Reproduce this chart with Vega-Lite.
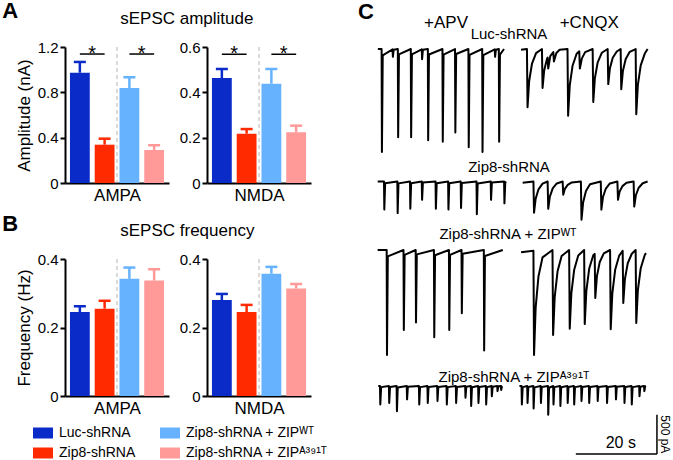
{
"$schema":"https://vega.github.io/schema/vega-lite/v6.json",
"padding":{"left":2,"top":0,"right":3,"bottom":0},
"spacing":47,
"config":{"font":"Liberation Sans","view":{"stroke":null},
 "axis":{"domainColor":"black","domainWidth":2,"tickColor":"black","tickWidth":2,"tickSize":5,"labelColor":"black","labelFontSize":15,"titleFontSize":17,"titleFontWeight":"normal","titleColor":"black","grid":false,"labelPadding":2,"titlePadding":4},
 "axisX":{"ticks":false,"labels":false,"titlePadding":4},
 "title":{"fontWeight":"normal","color":"black","fontSize":17,"subtitleColor":"black"},
 "line":{"strokeJoin":"round"},
 "legend":{"orient":"none","legendX":-32,"legendY":376,"columns":2,"symbolType":"M-1,-0.55H1V0.55H-1Z","symbolSize":400,"symbolStrokeWidth":0,"symbolOpacity":1,"labelFontSize":14,"labelColor":"black","labelOffset":6,"columnPadding":24,"rowPadding":3,"padding":0}},
"datasets":{
"bars":[
{"a":"amp","r":"AMPA","g":"Luc","m":0.973,"u":1.068},
{"a":"amp","r":"AMPA","g":"Zip8","m":0.338,"u":0.391},
{"a":"amp","r":"AMPA","g":"WT","m":0.838,"u":0.933},
{"a":"amp","r":"AMPA","g":"A391T","m":0.291,"u":0.333},
{"a":"amp","r":"NMDA","g":"Luc","m":0.463,"u":0.503},
{"a":"amp","r":"NMDA","g":"Zip8","m":0.2175,"u":0.238},
{"a":"amp","r":"NMDA","g":"WT","m":0.438,"u":0.503},
{"a":"amp","r":"NMDA","g":"A391T","m":0.224,"u":0.253},
{"a":"freq","r":"AMPA","g":"Luc","m":0.245,"u":0.262},
{"a":"freq","r":"AMPA","g":"Zip8","m":0.255,"u":0.278},
{"a":"freq","r":"AMPA","g":"WT","m":0.342,"u":0.375},
{"a":"freq","r":"AMPA","g":"A391T","m":0.337,"u":0.370},
{"a":"freq","r":"NMDA","g":"Luc","m":0.280,"u":0.298},
{"a":"freq","r":"NMDA","g":"Zip8","m":0.245,"u":0.266},
{"a":"freq","r":"NMDA","g":"WT","m":0.357,"u":0.377},
{"a":"freq","r":"NMDA","g":"A391T","m":0.314,"u":0.327}],
"sig":[
{"r":"AMPA","g":"Luc","g2":"Zip8","y":1.138},
{"r":"AMPA","g":"WT","g2":"A391T","y":1.138},
{"r":"NMDA","g":"Luc","g2":"Zip8","y":0.568},
{"r":"NMDA","g":"WT","g2":"A391T","y":0.568}],
"hdr":[{"t":18.0,"label":"+APV"},{"t":53.3,"label":"+CNQX"}],
"sb":[{"t1":50,"t2":70,"i1":-865,"i2":-865},{"t1":70,"t2":70,"i1":-365,"i2":-865}],
"luc":[
{"s":"a","t":1.2,"i":0},{"s":"a","t":2.12,"i":0},{"s":"a","t":2.2,"i":-1320},{"s":"a","t":2.4,"i":-80},{"s":"a","t":4.82,"i":-5},{"s":"a","t":4.9,"i":-100},{"s":"a","t":5.1,"i":-8},{"s":"a","t":6.12,"i":0},{"s":"a","t":6.2,"i":-1130},{"s":"a","t":6.4,"i":-68},{"s":"a","t":9.32,"i":0},{"s":"a","t":9.4,"i":-1130},{"s":"a","t":9.6,"i":-68},{"s":"a","t":12.02,"i":-5},{"s":"a","t":12.1,"i":-130},{"s":"a","t":12.3,"i":-10},{"s":"a","t":13.52,"i":0},{"s":"a","t":13.6,"i":-1170},{"s":"a","t":13.8,"i":-70},{"s":"a","t":17.12,"i":0},{"s":"a","t":17.2,"i":-1190},{"s":"a","t":17.4,"i":-71},{"s":"a","t":20.22,"i":0},{"s":"a","t":20.3,"i":-1070},{"s":"a","t":20.5,"i":-64},{"s":"a","t":23.52,"i":0},{"s":"a","t":23.6,"i":-1260},{"s":"a","t":23.8,"i":-76},{"s":"a","t":26.92,"i":0},{"s":"a","t":27.0,"i":-1320},{"s":"a","t":27.2,"i":-79},{"s":"a","t":30.02,"i":-5},{"s":"a","t":30.1,"i":-100},{"s":"a","t":30.3,"i":-8},{"s":"a","t":31.02,"i":0},{"s":"a","t":31.1,"i":-1190},{"s":"a","t":31.3,"i":-71},{"s":"a","t":32.3,"i":0},
{"s":"c","t":36.5,"i":-10},{"s":"c","t":37.95,"i":0},{"s":"c","t":38.1,"i":-745},{"s":"c","t":38.5,"i":-410},{"s":"c","t":39.2,"i":-186},{"s":"c","t":40.2,"i":-52},{"s":"c","t":41.65,"i":0},{"s":"c","t":41.8,"i":-500},{"s":"c","t":42.2,"i":-275},{"s":"c","t":42.9,"i":-125},{"s":"c","t":43.05,"i":-110},{"s":"c","t":43.2,"i":-250},{"s":"c","t":43.7,"i":-90},{"s":"c","t":44.45,"i":-40},{"s":"c","t":44.6,"i":-160},{"s":"c","t":45.2,"i":-50},{"s":"c","t":46.0,"i":-10},{"s":"c","t":47.95,"i":0},{"s":"c","t":48.1,"i":-855},{"s":"c","t":48.5,"i":-470},{"s":"c","t":49.2,"i":-214},{"s":"c","t":50.2,"i":-60},{"s":"c","t":50.85,"i":-30},{"s":"c","t":51.0,"i":-250},{"s":"c","t":51.5,"i":-120},{"s":"c","t":52.3,"i":-40},{"s":"c","t":54.15,"i":0},{"s":"c","t":54.3,"i":-680},{"s":"c","t":54.7,"i":-374},{"s":"c","t":55.4,"i":-170},{"s":"c","t":56.4,"i":-48},{"s":"c","t":57.85,"i":0},{"s":"c","t":58.0,"i":-450},{"s":"c","t":58.4,"i":-248},{"s":"c","t":59.1,"i":-112},{"s":"c","t":60.1,"i":-32},{"s":"c","t":61.05,"i":0},{"s":"c","t":61.2,"i":-515},{"s":"c","t":61.6,"i":-283},{"s":"c","t":62.3,"i":-129},{"s":"c","t":63.3,"i":-36},{"s":"c","t":64.75,"i":0},{"s":"c","t":64.9,"i":-835},{"s":"c","t":65.3,"i":-459},{"s":"c","t":66.0,"i":-209},{"s":"c","t":67.0,"i":-58},{"s":"c","t":67.7,"i":0}],
"zip8":[
{"s":"a","t":1.16,"i":0},{"s":"a","t":2.71,"i":0},{"s":"a","t":2.79,"i":-360},{"s":"a","t":2.99,"i":-22},{"s":"a","t":6.0,"i":0},{"s":"a","t":6.08,"i":-405},{"s":"a","t":6.28,"i":-24},{"s":"a","t":9.12,"i":0},{"s":"a","t":9.2,"i":-350},{"s":"a","t":9.4,"i":-21},{"s":"a","t":12.02,"i":0},{"s":"a","t":12.1,"i":-235},{"s":"a","t":12.3,"i":-14},{"s":"a","t":15.42,"i":0},{"s":"a","t":15.5,"i":-350},{"s":"a","t":15.7,"i":-21},{"s":"a","t":18.52,"i":0},{"s":"a","t":18.6,"i":-360},{"s":"a","t":18.8,"i":-22},{"s":"a","t":21.62,"i":0},{"s":"a","t":21.7,"i":-340},{"s":"a","t":21.9,"i":-20},{"s":"a","t":25.52,"i":0},{"s":"a","t":25.6,"i":-420},{"s":"a","t":25.8,"i":-25},{"s":"a","t":29.02,"i":0},{"s":"a","t":29.1,"i":-235},{"s":"a","t":29.3,"i":-14},{"s":"a","t":32.32,"i":0},{"s":"a","t":32.4,"i":-280},{"s":"a","t":32.6,"i":-17},{"s":"a","t":32.8,"i":0},
{"s":"c","t":36.9,"i":-15},{"s":"c","t":39.55,"i":0},{"s":"c","t":39.7,"i":-400},{"s":"c","t":40.1,"i":-220},{"s":"c","t":40.8,"i":-100},{"s":"c","t":41.8,"i":-28},{"s":"c","t":43.05,"i":0},{"s":"c","t":43.2,"i":-350},{"s":"c","t":43.6,"i":-193},{"s":"c","t":44.3,"i":-88},{"s":"c","t":45.3,"i":-25},{"s":"c","t":46.75,"i":0},{"s":"c","t":46.9,"i":-170},{"s":"c","t":47.3,"i":-94},{"s":"c","t":48.0,"i":-43},{"s":"c","t":49.0,"i":-12},{"s":"c","t":51.25,"i":0},{"s":"c","t":51.4,"i":-490},{"s":"c","t":51.8,"i":-270},{"s":"c","t":52.5,"i":-123},{"s":"c","t":53.5,"i":-34},{"s":"c","t":56.15,"i":0},{"s":"c","t":56.3,"i":-360},{"s":"c","t":56.7,"i":-198},{"s":"c","t":57.4,"i":-90},{"s":"c","t":58.4,"i":-25},{"s":"c","t":60.25,"i":0},{"s":"c","t":60.4,"i":-235},{"s":"c","t":60.8,"i":-129},{"s":"c","t":61.5,"i":-59},{"s":"c","t":62.5,"i":-16},{"s":"c","t":64.25,"i":0},{"s":"c","t":64.4,"i":-320},{"s":"c","t":64.8,"i":-176},{"s":"c","t":65.5,"i":-80},{"s":"c","t":66.5,"i":-22},{"s":"c","t":67.7,"i":0}],
"wt":[
{"s":"a","t":1.15,"i":0},{"s":"a","t":3.37,"i":0},{"s":"a","t":3.45,"i":-1345},{"s":"a","t":3.65,"i":-81},{"s":"a","t":7.52,"i":0},{"s":"a","t":7.6,"i":-1025},{"s":"a","t":7.8,"i":-62},{"s":"a","t":10.52,"i":0},{"s":"a","t":10.6,"i":-930},{"s":"a","t":10.8,"i":-56},{"s":"a","t":15.02,"i":0},{"s":"a","t":15.1,"i":-1120},{"s":"a","t":15.3,"i":-67},{"s":"a","t":18.72,"i":0},{"s":"a","t":18.8,"i":-1025},{"s":"a","t":19.0,"i":-62},{"s":"a","t":21.82,"i":0},{"s":"a","t":21.9,"i":-810},{"s":"a","t":22.1,"i":-49},{"s":"a","t":27.32,"i":0},{"s":"a","t":27.4,"i":-1290},{"s":"a","t":27.6,"i":-77},{"s":"a","t":32.0,"i":0},
{"s":"c","t":36.5,"i":-30},{"s":"c","t":39.55,"i":-10},{"s":"c","t":39.7,"i":-1345},{"s":"c","t":40.1,"i":-740},{"s":"c","t":40.8,"i":-336},{"s":"c","t":41.8,"i":-94},{"s":"c","t":44.25,"i":0},{"s":"c","t":44.4,"i":-1090},{"s":"c","t":44.8,"i":-600},{"s":"c","t":45.5,"i":-273},{"s":"c","t":46.5,"i":-76},{"s":"c","t":48.35,"i":0},{"s":"c","t":48.5,"i":-1010},{"s":"c","t":48.9,"i":-556},{"s":"c","t":49.6,"i":-253},{"s":"c","t":50.6,"i":-71},{"s":"c","t":52.05,"i":0},{"s":"c","t":52.2,"i":-950},{"s":"c","t":52.6,"i":-523},{"s":"c","t":53.3,"i":-238},{"s":"c","t":54.3,"i":-67},{"s":"c","t":54.65,"i":-50},{"s":"c","t":54.8,"i":-615},{"s":"c","t":55.2,"i":-338},{"s":"c","t":55.9,"i":-154},{"s":"c","t":56.9,"i":-43},{"s":"c","t":58.45,"i":0},{"s":"c","t":58.6,"i":-1015},{"s":"c","t":59.0,"i":-558},{"s":"c","t":59.7,"i":-254},{"s":"c","t":60.7,"i":-71},{"s":"c","t":61.55,"i":-10},{"s":"c","t":61.7,"i":-680},{"s":"c","t":62.1,"i":-374},{"s":"c","t":62.8,"i":-170},{"s":"c","t":63.8,"i":-48},{"s":"c","t":64.75,"i":0},{"s":"c","t":64.9,"i":-935},{"s":"c","t":65.3,"i":-514},{"s":"c","t":66.0,"i":-234},{"s":"c","t":67.0,"i":-65},{"s":"c","t":67.3,"i":-40}],
"a391":[
{"s":"a","t":1.3,"i":0},{"s":"a","t":1.72,"i":0},{"s":"a","t":1.8,"i":-235},{"s":"a","t":2.0,"i":-14},{"s":"a","t":3.92,"i":0},{"s":"a","t":4.0,"i":-215},{"s":"a","t":4.2,"i":-13},{"s":"a","t":5.82,"i":0},{"s":"a","t":5.9,"i":-320},{"s":"a","t":6.1,"i":-19},{"s":"a","t":8.32,"i":0},{"s":"a","t":8.4,"i":-170},{"s":"a","t":8.6,"i":-10},{"s":"a","t":11.32,"i":0},{"s":"a","t":11.4,"i":-235},{"s":"a","t":11.6,"i":-14},{"s":"a","t":13.42,"i":0},{"s":"a","t":13.5,"i":-215},{"s":"a","t":13.7,"i":-13},{"s":"a","t":15.82,"i":0},{"s":"a","t":15.9,"i":-190},{"s":"a","t":16.1,"i":-11},{"s":"a","t":18.12,"i":0},{"s":"a","t":18.2,"i":-235},{"s":"a","t":18.4,"i":-14},{"s":"a","t":20.42,"i":0},{"s":"a","t":20.5,"i":-215},{"s":"a","t":20.7,"i":-13},{"s":"a","t":22.72,"i":0},{"s":"a","t":22.8,"i":-150},{"s":"a","t":23.0,"i":-9},{"s":"a","t":24.12,"i":0},{"s":"a","t":24.2,"i":-255},{"s":"a","t":24.4,"i":-15},{"s":"a","t":25.92,"i":0},{"s":"a","t":26.0,"i":-215},{"s":"a","t":26.2,"i":-13},{"s":"a","t":27.82,"i":0},{"s":"a","t":27.9,"i":-235},{"s":"a","t":28.1,"i":-14},{"s":"a","t":29.22,"i":0},{"s":"a","t":29.3,"i":-130},{"s":"a","t":29.5,"i":-8},{"s":"a","t":30.62,"i":0},{"s":"a","t":30.7,"i":-65},{"s":"a","t":30.9,"i":-4},{"s":"a","t":31.52,"i":0},{"s":"a","t":31.6,"i":-50},{"s":"a","t":31.8,"i":-3},{"s":"a","t":31.9,"i":0},
{"s":"c","t":36.1,"i":0},{"s":"c","t":36.62,"i":0},{"s":"c","t":36.7,"i":-235},{"s":"c","t":36.9,"i":-14},{"s":"c","t":38.02,"i":0},{"s":"c","t":38.1,"i":-215},{"s":"c","t":38.3,"i":-13},{"s":"c","t":39.52,"i":0},{"s":"c","t":39.6,"i":-285},{"s":"c","t":39.8,"i":-17},{"s":"c","t":41.32,"i":0},{"s":"c","t":41.4,"i":-215},{"s":"c","t":41.6,"i":-13},{"s":"c","t":43.12,"i":0},{"s":"c","t":43.2,"i":-365},{"s":"c","t":43.4,"i":-22},{"s":"c","t":44.42,"i":0},{"s":"c","t":44.5,"i":-235},{"s":"c","t":44.7,"i":-14},{"s":"c","t":46.12,"i":0},{"s":"c","t":46.2,"i":-255},{"s":"c","t":46.4,"i":-15},{"s":"c","t":47.92,"i":0},{"s":"c","t":48.0,"i":-215},{"s":"c","t":48.2,"i":-13},{"s":"c","t":49.52,"i":0},{"s":"c","t":49.6,"i":-235},{"s":"c","t":49.8,"i":-14},{"s":"c","t":51.32,"i":0},{"s":"c","t":51.4,"i":-190},{"s":"c","t":51.6,"i":-11},{"s":"c","t":53.22,"i":0},{"s":"c","t":53.3,"i":-215},{"s":"c","t":53.5,"i":-13},{"s":"c","t":55.32,"i":0},{"s":"c","t":55.4,"i":-190},{"s":"c","t":55.6,"i":-11},{"s":"c","t":57.62,"i":0},{"s":"c","t":57.7,"i":-215},{"s":"c","t":57.9,"i":-13},{"s":"c","t":59.82,"i":0},{"s":"c","t":59.9,"i":-170},{"s":"c","t":60.1,"i":-10},{"s":"c","t":61.92,"i":0},{"s":"c","t":62.0,"i":-215},{"s":"c","t":62.2,"i":-13},{"s":"c","t":63.72,"i":0},{"s":"c","t":63.8,"i":-235},{"s":"c","t":64.0,"i":-14},{"s":"c","t":65.62,"i":0},{"s":"c","t":65.7,"i":-130},{"s":"c","t":65.9,"i":-8},{"s":"c","t":66.82,"i":0},{"s":"c","t":66.9,"i":-65},{"s":"c","t":67.1,"i":-4},{"s":"c","t":67.3,"i":0}]
},
"hconcat":[
{"spacing":10,"vconcat":[
 {"spacing":10,
  "title":{"text":"A","subtitle":"\u200b\u00a0\u00a0\u00a0\u00a0\u00a0\u00a0\u00a0\u00a0\u00a0\u00a0\u00a0\u00a0\u00a0\u00a0\u00a0\u00a0\u00a0\u00a0\u00a0\u00a0\u00a0\u00a0\u00a0\u00a0\u00a0sEPSC amplitude","anchor":"start","frame":"bounds","dx":-13,"fontSize":22,"fontWeight":"bold","subtitleFontSize":17,"subtitlePadding":-12,"offset":12},
  "hconcat":[
  {"width":104,"height":136,
   "data":{"name":"bars"},
   "transform":[{"filter":"datum.a=='amp' && datum.r=='AMPA'"}],
   "layer":[
    {"transform":[{"filter":"datum.g=='Zip8'"}],"mark":{"type":"rule","strokeDash":[4,3],"strokeWidth":1,"color":"#b5b5b5"},
     "encoding":{"x":{"field":"g","type":"nominal","bandPosition":1.125,"title":"AMPA","scale":{"domain":["Luc","Zip8","WT","A391T"],"paddingInner":0.2,"paddingOuter":0.2}}}},
    {"mark":{"type":"bar"},
     "encoding":{"x":{"field":"g","type":"nominal","title":"AMPA"},
      "y":{"field":"m","type":"quantitative","title":"Amplitude (nA)","scale":{"domain":[0,1.2],"nice":false},"axis":{"values":[0,0.4,0.8,1.2],"labelExpr":"datum.value == 0 ? '0' : format(datum.value, '.1f')"}},
      "color":{"field":"g","type":"nominal","scale":{"domain":["Luc","WT","Zip8","A391T"],"range":["#0A2BC8","#66B2FF","#FF2A00","#FF9A99"]},"legend":{"title":null,"values":["Luc","Zip8","WT","A391T"],"labelExpr":"datum.label == 'Luc' ? 'Luc-shRNA' : datum.label == 'Zip8' ? 'Zip8-shRNA' : datum.label == 'WT' ? 'Zip8-shRNA + ZIPᵂᵀ' : 'Zip8-shRNA + ZIPᴬ³⁹¹ᵀ'"}}}},
    {"mark":{"type":"rule","strokeWidth":2.5},
     "encoding":{"x":{"field":"g","type":"nominal","title":"AMPA"},"y":{"field":"m","type":"quantitative","title":"Amplitude (nA)"},"y2":{"field":"u"},"color":{"field":"g","type":"nominal"}}},
    {"mark":{"type":"tick","thickness":2.5,"size":12,"opacity":1},
     "encoding":{"x":{"field":"g","type":"nominal","title":"AMPA"},"y":{"field":"u","type":"quantitative","title":"Amplitude (nA)"},"color":{"field":"g","type":"nominal"}}},
    {"data":{"name":"sig"},"transform":[{"filter":"datum.r=='AMPA'"}],"mark":{"type":"rule","strokeWidth":1.5,"color":"black"},
     "encoding":{"x":{"field":"g","type":"nominal","title":"AMPA"},"x2":{"field":"g2"},"y":{"field":"y","type":"quantitative","title":"Amplitude (nA)"}}},
    {"data":{"name":"sig"},"transform":[{"filter":"datum.r=='AMPA'"}],"mark":{"type":"text","text":"*","fontSize":20,"dy":6,"baseline":"alphabetic","color":"black"},
     "encoding":{"x":{"field":"g","type":"nominal","bandPosition":1.125,"title":"AMPA"},"y":{"field":"y","type":"quantitative","title":"Amplitude (nA)"}}}
   ]},
  {"width":104,"height":136,
   "data":{"name":"bars"},
   "transform":[{"filter":"datum.a=='amp' && datum.r=='NMDA'"}],
   "layer":[
    {"transform":[{"filter":"datum.g=='Zip8'"}],"mark":{"type":"rule","strokeDash":[4,3],"strokeWidth":1,"color":"#b5b5b5"},
     "encoding":{"x":{"field":"g","type":"nominal","bandPosition":1.125,"title":"NMDA","scale":{"domain":["Luc","Zip8","WT","A391T"],"paddingInner":0.2,"paddingOuter":0.2}}}},
    {"mark":{"type":"bar"},
     "encoding":{"x":{"field":"g","type":"nominal","title":"NMDA"},
      "y":{"field":"m","type":"quantitative","title":null,"scale":{"domain":[0,0.6],"nice":false},"axis":{"values":[0,0.2,0.4,0.6],"labelExpr":"datum.value == 0 ? '0' : format(datum.value, '.1f')"}},
      "color":{"field":"g","type":"nominal","scale":{"domain":["Luc","WT","Zip8","A391T"],"range":["#0A2BC8","#66B2FF","#FF2A00","#FF9A99"]},"legend":{"title":null,"values":["Luc","Zip8","WT","A391T"],"labelExpr":"datum.label == 'Luc' ? 'Luc-shRNA' : datum.label == 'Zip8' ? 'Zip8-shRNA' : datum.label == 'WT' ? 'Zip8-shRNA + ZIPᵂᵀ' : 'Zip8-shRNA + ZIPᴬ³⁹¹ᵀ'"}}}},
    {"mark":{"type":"rule","strokeWidth":2.5},
     "encoding":{"x":{"field":"g","type":"nominal","title":"NMDA"},"y":{"field":"m","type":"quantitative","title":null},"y2":{"field":"u"},"color":{"field":"g","type":"nominal"}}},
    {"mark":{"type":"tick","thickness":2.5,"size":12,"opacity":1},
     "encoding":{"x":{"field":"g","type":"nominal","title":"NMDA"},"y":{"field":"u","type":"quantitative","title":null},"color":{"field":"g","type":"nominal"}}},
    {"data":{"name":"sig"},"transform":[{"filter":"datum.r=='NMDA'"}],"mark":{"type":"rule","strokeWidth":1.5,"color":"black"},
     "encoding":{"x":{"field":"g","type":"nominal","title":"NMDA"},"x2":{"field":"g2"},"y":{"field":"y","type":"quantitative","title":null}}},
    {"data":{"name":"sig"},"transform":[{"filter":"datum.r=='NMDA'"}],"mark":{"type":"text","text":"*","fontSize":20,"dy":6,"baseline":"alphabetic","color":"black"},
     "encoding":{"x":{"field":"g","type":"nominal","bandPosition":1.125,"title":"NMDA"},"y":{"field":"y","type":"quantitative","title":null}}}
   ]}
 ]},
 {"spacing":10,
  "title":{"text":"B","subtitle":"\u200b\u00a0\u00a0\u00a0\u00a0\u00a0\u00a0\u00a0\u00a0\u00a0\u00a0\u00a0\u00a0\u00a0\u00a0\u00a0\u00a0\u00a0\u00a0\u00a0\u00a0\u00a0\u00a0\u00a0\u00a0\u00a0sEPSC frequency","anchor":"start","frame":"bounds","dx":-13,"fontSize":22,"fontWeight":"bold","subtitleFontSize":17,"subtitlePadding":-13,"offset":12},
  "hconcat":[
  {"width":104,"height":137,
   "data":{"name":"bars"},
   "transform":[{"filter":"datum.a=='freq' && datum.r=='AMPA'"}],
   "layer":[
    {"transform":[{"filter":"datum.g=='Zip8'"}],"mark":{"type":"rule","strokeDash":[4,3],"strokeWidth":1,"color":"#b5b5b5"},
     "encoding":{"x":{"field":"g","type":"nominal","bandPosition":1.125,"title":"AMPA","scale":{"domain":["Luc","Zip8","WT","A391T"],"paddingInner":0.2,"paddingOuter":0.2}}}},
    {"mark":{"type":"bar"},
     "encoding":{"x":{"field":"g","type":"nominal","title":"AMPA"},
      "y":{"field":"m","type":"quantitative","title":"Frequency (Hz)","scale":{"domain":[0,0.4],"nice":false},"axis":{"values":[0,0.1,0.2,0.3,0.4],"labelExpr":"datum.value == 0 ? '0' : format(datum.value, '.1f')"}},
      "color":{"field":"g","type":"nominal","scale":{"domain":["Luc","WT","Zip8","A391T"],"range":["#0A2BC8","#66B2FF","#FF2A00","#FF9A99"]},"legend":{"title":null,"values":["Luc","Zip8","WT","A391T"],"labelExpr":"datum.label == 'Luc' ? 'Luc-shRNA' : datum.label == 'Zip8' ? 'Zip8-shRNA' : datum.label == 'WT' ? 'Zip8-shRNA + ZIPᵂᵀ' : 'Zip8-shRNA + ZIPᴬ³⁹¹ᵀ'"}}}},
    {"mark":{"type":"rule","strokeWidth":2.5},
     "encoding":{"x":{"field":"g","type":"nominal","title":"AMPA"},"y":{"field":"m","type":"quantitative","title":"Frequency (Hz)"},"y2":{"field":"u"},"color":{"field":"g","type":"nominal"}}},
    {"mark":{"type":"tick","thickness":2.5,"size":12,"opacity":1},
     "encoding":{"x":{"field":"g","type":"nominal","title":"AMPA"},"y":{"field":"u","type":"quantitative","title":"Frequency (Hz)"},"color":{"field":"g","type":"nominal"}}}
   ]},
  {"width":104,"height":137,
   "data":{"name":"bars"},
   "transform":[{"filter":"datum.a=='freq' && datum.r=='NMDA'"}],
   "layer":[
    {"transform":[{"filter":"datum.g=='Zip8'"}],"mark":{"type":"rule","strokeDash":[4,3],"strokeWidth":1,"color":"#b5b5b5"},
     "encoding":{"x":{"field":"g","type":"nominal","bandPosition":1.125,"title":"NMDA","scale":{"domain":["Luc","Zip8","WT","A391T"],"paddingInner":0.2,"paddingOuter":0.2}}}},
    {"mark":{"type":"bar"},
     "encoding":{"x":{"field":"g","type":"nominal","title":"NMDA"},
      "y":{"field":"m","type":"quantitative","title":null,"scale":{"domain":[0,0.4],"nice":false},"axis":{"values":[0,0.1,0.2,0.3,0.4],"labelExpr":"datum.value == 0 ? '0' : format(datum.value, '.1f')"}},
      "color":{"field":"g","type":"nominal","scale":{"domain":["Luc","WT","Zip8","A391T"],"range":["#0A2BC8","#66B2FF","#FF2A00","#FF9A99"]},"legend":{"title":null,"values":["Luc","Zip8","WT","A391T"],"labelExpr":"datum.label == 'Luc' ? 'Luc-shRNA' : datum.label == 'Zip8' ? 'Zip8-shRNA' : datum.label == 'WT' ? 'Zip8-shRNA + ZIPᵂᵀ' : 'Zip8-shRNA + ZIPᴬ³⁹¹ᵀ'"}}}},
    {"mark":{"type":"rule","strokeWidth":2.5},
     "encoding":{"x":{"field":"g","type":"nominal","title":"NMDA"},"y":{"field":"m","type":"quantitative","title":null},"y2":{"field":"u"},"color":{"field":"g","type":"nominal"}}},
    {"mark":{"type":"tick","thickness":2.5,"size":12,"opacity":1},
     "encoding":{"x":{"field":"g","type":"nominal","title":"NMDA"},"y":{"field":"u","type":"quantitative","title":null},"color":{"field":"g","type":"nominal"}}}
   ]}
 ]}
]},
{"spacing":6,
 "title":{"text":"C","anchor":"start","frame":"bounds","dx":-15,"fontSize":22,"fontWeight":"bold","offset":-10},
 "vconcat":[
 {"width":288,"height":107,
  "title":{"text":"Luc-shRNA","fontSize":15,"offset":-28,"dx":-8},
  "layer":[
   {"data":{"name":"luc"},"mark":{"type":"line","color":"black","strokeWidth":2},
    "encoding":{"x":{"field":"t","type":"quantitative","scale":{"domain":[0,71],"nice":false},"axis":null},
     "y":{"field":"i","type":"quantitative","scale":{"domain":[-1346,26],"nice":false,"zero":false},"axis":null},"detail":{"field":"s"}}},
   {"data":{"name":"hdr"},"mark":{"type":"text","fontSize":17,"dy":-24,"baseline":"middle","color":"black"},
    "encoding":{"x":{"field":"t","type":"quantitative"},"y":{"datum":26,"type":"quantitative"},"text":{"field":"label"}}}
  ]},
 {"width":288,"height":48,
  "title":{"text":"Zip8-shRNA","fontSize":15,"offset":-2,"dx":-8},
  "data":{"name":"zip8"},"mark":{"type":"line","color":"black","strokeWidth":2},
  "encoding":{"x":{"field":"t","type":"quantitative","scale":{"domain":[0,71],"nice":false},"axis":null},
   "y":{"field":"i","type":"quantitative","scale":{"domain":[-506,109],"nice":false,"zero":false},"axis":null},"detail":{"field":"s"}}},
 {"width":288,"height":120,
  "title":{"text":"Zip8-shRNA + ZIPᵂᵀ","fontSize":15,"offset":2,"dx":-9},
  "data":{"name":"wt"},"mark":{"type":"line","color":"black","strokeWidth":2},
  "encoding":{"x":{"field":"t","type":"quantitative","scale":{"domain":[0,71],"nice":false},"axis":null},
   "y":{"field":"i","type":"quantitative","scale":{"domain":[-1462,77],"nice":false,"zero":false},"axis":null},"detail":{"field":"s"}}},
 {"width":288,"height":77,
  "title":{"text":"Zip8-shRNA + ZIPᴬ³⁹¹ᵀ","fontSize":15,"offset":-4,"dx":-3},
  "layer":[
   {"data":{"name":"a391"},"mark":{"type":"line","color":"black","strokeWidth":2},
    "encoding":{"x":{"field":"t","type":"quantitative","scale":{"domain":[0,71],"nice":false},"axis":null},
     "y":{"field":"i","type":"quantitative","scale":{"domain":[-917,64],"nice":false,"zero":false},"axis":null},"detail":{"field":"s"}}},
   {"data":{"name":"sb"},"mark":{"type":"rule","color":"black","strokeWidth":1.5},
    "encoding":{"x":{"field":"t1","type":"quantitative"},"x2":{"field":"t2"},"y":{"field":"i1","type":"quantitative"},"y2":{"field":"i2"}}},
   {"data":{"values":[{"t":61.1,"i":-865,"label":"20 s"}]},"mark":{"type":"text","fontSize":16,"baseline":"bottom","dy":-3,"color":"black"},
    "encoding":{"x":{"field":"t","type":"quantitative"},"y":{"field":"i","type":"quantitative"},"text":{"field":"label"}}},
   {"data":{"values":[{"t":70,"i":-615,"label":"500 pA"}]},"mark":{"type":"text","fontSize":12,"angle":90,"baseline":"bottom","dy":-1,"color":"black"},
    "encoding":{"x":{"field":"t","type":"quantitative"},"y":{"field":"i","type":"quantitative"},"text":{"field":"label"}}}
  ]}
]}
]
}
